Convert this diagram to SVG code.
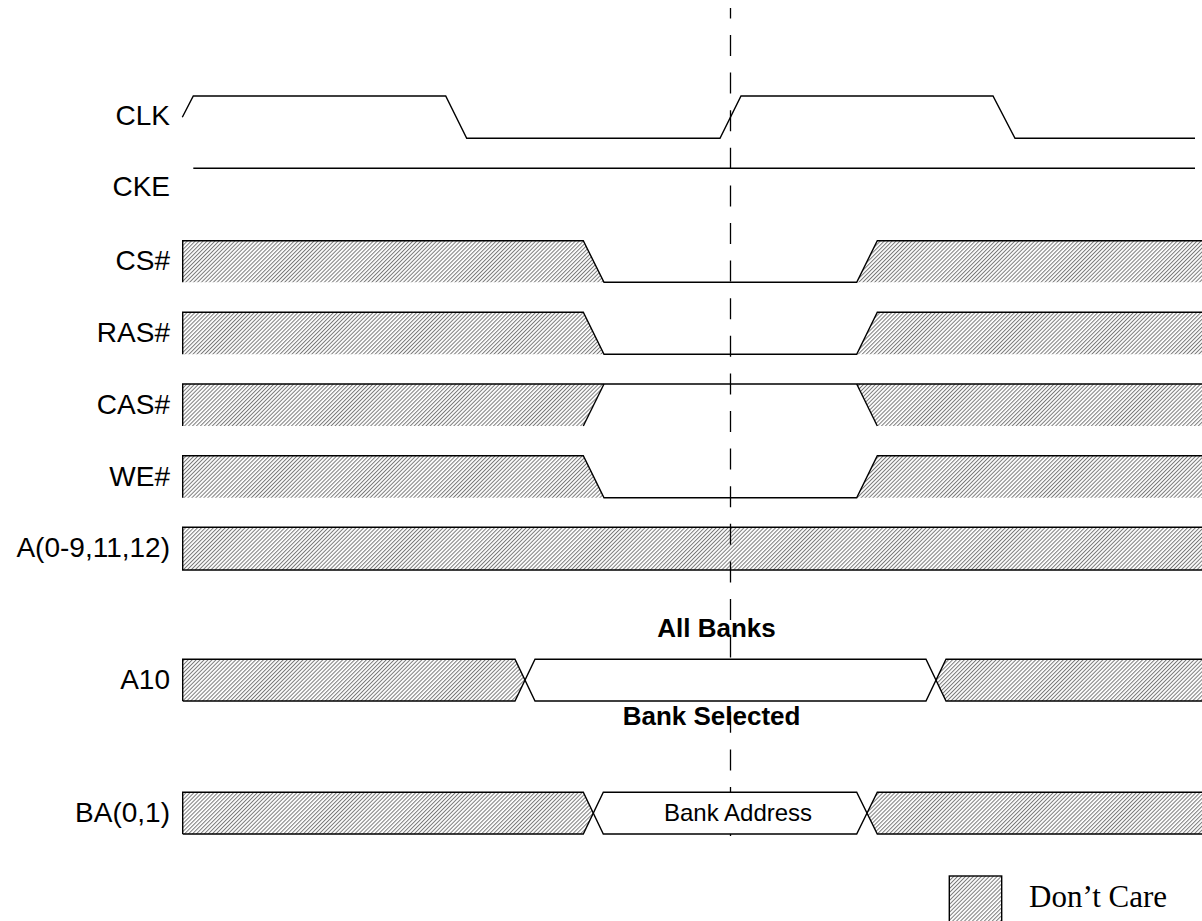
<svg xmlns="http://www.w3.org/2000/svg" width="1202" height="921" viewBox="0 0 1202 921">
<defs>
<pattern id="hatch" patternUnits="userSpaceOnUse" width="2.8" height="2.8" patternTransform="rotate(45)">
<rect width="2.8" height="2.8" fill="#ffffff"/>
<line x1="0.5" y1="-1" x2="0.5" y2="4" stroke="#7a7a7a" stroke-width="1"/>
</pattern>
</defs>
<style>
.w{fill:none;stroke:#000;stroke-width:1.4;stroke-linejoin:miter}
.h{fill:url(#hatch);stroke:none}
.hb{fill:url(#hatch);stroke:#000;stroke-width:1.4}
.d{fill:#fff;stroke:none}
.lbl{font-family:"Liberation Sans",Arial,sans-serif;font-size:28px;fill:#000;text-anchor:end}
.b{font-family:"Liberation Sans",Arial,sans-serif;font-size:26px;font-weight:bold;fill:#000}
.t{font-family:"Liberation Sans",Arial,sans-serif;font-size:24px;fill:#000}
.leg{font-family:"Liberation Serif","Times New Roman",serif;font-size:31px;fill:#000}
</style>
<rect width="1202" height="921" fill="#fff"/>

<g id="CLK">
<text class="lbl" x="170" y="125">CLK</text>
<polyline class="w" points="182.3,117.3 193.3,96 445.7,96 466.7,138.3 720,138.3 741,96 993,96 1015,138.3 1195,138.3"/>
</g>

<g id="CKE">
<text class="lbl" x="170" y="196">CKE</text>
<line class="w" x1="193.3" y1="168.3" x2="1195" y2="168.3"/>
</g>

<g id="CS">
<text class="lbl" x="170" y="270">CS#</text>
<polygon class="h" points="182.7,240.7 583.3,240.7 604,282.3 182.7,282.3"/>
<polygon class="h" points="856.7,282.3 877.3,240.7 1202,240.7 1202,282.3"/>
<polyline class="w" points="182.7,282.3 182.7,240.7 583.3,240.7 604,282.3 856.7,282.3 877.3,240.7 1202,240.7"/>
</g>

<g id="RAS">
<text class="lbl" x="170" y="342">RAS#</text>
<polygon class="h" points="182.7,312.3 583.3,312.3 604,354.3 182.7,354.3"/>
<polygon class="h" points="856.7,354.3 877.3,312.3 1202,312.3 1202,354.3"/>
<polyline class="w" points="182.7,354.3 182.7,312.3 583.3,312.3 604,354.3 856.7,354.3 877.3,312.3 1202,312.3"/>
</g>

<g id="CAS">
<text class="lbl" x="170" y="413.5">CAS#</text>
<polygon class="h" points="182.7,384 604,384 583.3,426 182.7,426"/>
<polygon class="h" points="856.7,384 1202,384 1202,426 877.3,426"/>
<polyline class="w" points="182.7,426 182.7,384 1202,384"/>
<line class="w" x1="604" y1="384" x2="583.3" y2="426"/>
<line class="w" x1="856.7" y1="384" x2="877.3" y2="426"/>
</g>

<g id="WE">
<text class="lbl" x="170" y="485.5">WE#</text>
<polygon class="h" points="182.7,455.7 583.3,455.7 604,497.7 182.7,497.7"/>
<polygon class="h" points="856.7,497.7 877.3,455.7 1202,455.7 1202,497.7"/>
<polyline class="w" points="182.7,497.7 182.7,455.7 583.3,455.7 604,497.7 856.7,497.7 877.3,455.7 1202,455.7"/>
</g>

<g id="A">
<text class="lbl" x="170" y="557.3">A(0-9,11,12)</text>
<rect class="h" x="182.7" y="527.3" width="1019.3" height="42.7"/>
<polyline class="w" points="1202,527.3 182.7,527.3 182.7,570 1202,570"/>
</g>

<g id="connectors">
<line x1="730.5" y1="8" x2="730.5" y2="836" stroke="#000" stroke-width="1.3" stroke-dasharray="21 16.6" stroke-dashoffset="10.6"/>
</g>

<g id="A10">
<text class="lbl" x="170" y="688.5">A10</text>
<polygon class="h" points="182.7,659.3 515,659.3 525,680.2 515,701 182.7,701"/>
<polygon class="d" points="525,680.2 535,659.3 926,659.3 936,680.2 926,701 535,701"/>
<polygon class="h" points="936,680.2 946,659.3 1202,659.3 1202,701 946,701"/>
<polyline class="w" points="182.7,701 182.7,659.3 515,659.3 535,701 926,701 946,659.3 1202,659.3"/>
<polyline class="w" points="182.7,701 515,701 535,659.3 926,659.3 946,701 1202,701"/>
<text class="b" x="657.3" y="636.7">All Banks</text>
<text class="b" x="622.7" y="725">Bank Selected</text>
</g>

<g id="BA">
<text class="lbl" x="170" y="821.5">BA(0,1)</text>
<polygon class="h" points="182.7,792.3 583.3,792.3 593.3,813.2 583.3,834 182.7,834"/>
<polygon class="d" points="593.3,813.2 603.3,792.3 856.7,792.3 867,813.2 856.7,834 603.3,834"/>
<polygon class="h" points="867,813.2 877.3,792.3 1202,792.3 1202,834 877.3,834"/>
<polyline class="w" points="182.7,834 182.7,792.3 583.3,792.3 603.3,834 856.7,834 877.3,792.3 1202,792.3"/>
<polyline class="w" points="182.7,834 583.3,834 603.3,792.3 856.7,792.3 877.3,834 1202,834"/>
<text class="t" x="664" y="821">Bank Address</text>
</g>

<g id="legend">
<rect class="hb" x="949.3" y="876" width="52.4" height="60"/>
<text class="leg" x="1029" y="907.3">Don’t Care</text>
</g>
</svg>
